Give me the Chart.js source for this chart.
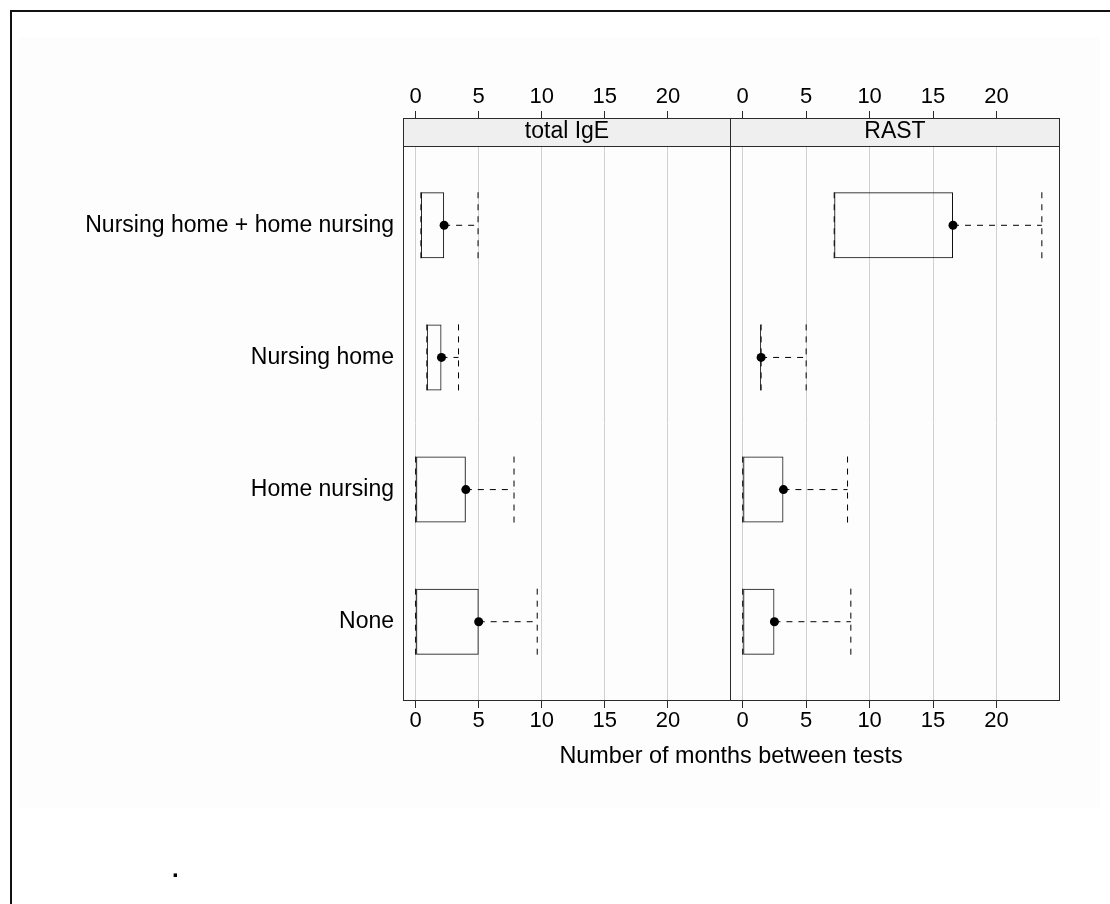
<!DOCTYPE html>
<html>
<head>
<meta charset="utf-8">
<script src="https://cdn.jsdelivr.net/npm/chart.js@4.4.1/dist/chart.umd.min.js"></script>
<style>
  html, body { margin: 0; padding: 0; background: #fff; }
  #page { position: relative; width: 1110px; height: 904px; overflow: hidden; background: #fff; }
  #haze { position: absolute; left: 18px; top: 37px; width: 1082px; height: 771px; background: #fdfdfd; }
  #frame { position: absolute; left: 10px; top: 10px; width: 1100px; height: 894px;
           border-left: 2px solid #111; border-top: 2px solid #111; box-sizing: border-box; }
  canvas { position: absolute; left: 0; top: 0; }
  #dot { position: absolute; left: 172px; top: 855px; font: bold 24px "Liberation Sans", Arial, sans-serif; color: #000; }
</style>
</head>
<body>
<div id="page">
  <div id="haze"></div>
  <div id="frame"></div>
  <canvas id="panelIgE" width="1110" height="904"></canvas>
  <canvas id="panelRAST" width="1110" height="904"></canvas>
  <div id="dot">.</div>
</div>
<script>
// Care groups, top to bottom
const CATEGORIES = ['Nursing home + home nursing', 'Nursing home', 'Home nursing', 'None'];
const PANELS = ['total IgE', 'RAST'];
const X_TICKS = [0, 5, 10, 15, 20];
const AXIS_TITLE = 'Number of months between tests';

// Months between tests: whisker ends, quartiles and medians per group
const IGE_LOW    = [0.42, 0.89, 0.0, 0.0];
const IGE_Q1     = [0.42, 0.89, 0.0, 0.0];
const IGE_MEDIAN = [2.26, 2.05, 3.98, 5.0];
const IGE_Q3     = [2.26, 2.05, 3.98, 5.0];
const IGE_HIGH   = [4.95, 3.40, 7.80, 9.64];

const RAST_LOW    = [7.21, 1.45, 0.0, 0.0];
const RAST_Q1     = [7.21, 1.45, 0.0, 0.0];
const RAST_MEDIAN = [16.57, 1.45, 3.21, 2.50];
const RAST_Q3     = [16.57, 1.45, 3.21, 2.50];
const RAST_HIGH   = [23.57, 5.00, 8.26, 8.52];

const FONT = '"Liberation Sans", Arial, Helvetica, sans-serif';
const X_MIN = -1, X_MAX = 25;
const BOX_WIDTH = 0.5;     // box thickness as a share of the group spacing
const STRIP_H = 28;
const TOP_AXIS_H = 146;
const BOTTOM_AXIS_H = 203;
const LEFT_AXIS_W = 403;
const AXIS_TITLE_Y = 757;
const LINE = '#111';
const DASH = [6, 6];

const groupPositions = () => CATEGORIES.map((_, i) => i + 1);

function buildDatasets(low, q1, median, q3, high) {
  const ys = groupPositions();
  const sets = [];
  sets.push({
    type: 'bar', indexAxis: 'y', xAxisID: 'x', yAxisID: 'y',
    data: ys.map((y, i) => ({ y, x: [q1[i], q3[i]] })),
    backgroundColor: 'rgba(0,0,0,0)', borderColor: LINE, borderWidth: 1,
    borderSkipped: false, categoryPercentage: 1, barPercentage: BOX_WIDTH,
    minBarLength: 1, order: 3
  });
  const half = BOX_WIDTH / 2;
  ys.forEach((y, i) => {
    const segs = [
      [{ x: low[i], y }, { x: q1[i], y }],
      [{ x: q3[i], y }, { x: high[i], y }],
      [{ x: low[i], y: y - half }, { x: low[i], y: y + half }],
      [{ x: high[i], y: y - half }, { x: high[i], y: y + half }]
    ];
    segs.forEach(seg => sets.push({
      type: 'line', indexAxis: 'x', xAxisID: 'x', yAxisID: 'y',
      data: seg, borderColor: '#000', borderWidth: 1, borderDash: DASH,
      pointRadius: 0, fill: false, tension: 0, order: 2
    }));
  });
  sets.push({
    type: 'scatter', indexAxis: 'x', xAxisID: 'x', yAxisID: 'y',
    data: ys.map((y, i) => ({ x: median[i], y })),
    pointRadius: 4.5, pointBackgroundColor: '#000', pointBorderWidth: 0,
    showLine: false, order: 0
  });
  return sets;
}

const panelDecor = {
  id: 'panelDecor',
  afterDraw(chart, args, opts) {
    const { ctx, chartArea: a } = chart;
    const L = Math.round(a.left) + 0.5, R = Math.round(a.right) - 0.5;
    const T = Math.round(a.top - STRIP_H) + 0.5, S = Math.round(a.top) + 0.5, B = Math.round(a.bottom) - 0.5;
    ctx.save();
    ctx.fillStyle = '#efefef';
    ctx.fillRect(L, T, R - L, S - T);
    ctx.strokeStyle = '#2a2a2a';
    ctx.lineWidth = 1;
    ctx.strokeRect(L, T, R - L, B - T);
    ctx.beginPath(); ctx.moveTo(L, S); ctx.lineTo(R, S); ctx.stroke();
    ctx.fillStyle = '#000';
    ctx.font = '23px ' + FONT;
    ctx.textAlign = 'center';
    ctx.textBaseline = 'middle';
    ctx.fillText(opts.title, (a.left + a.right) / 2, a.top - STRIP_H / 2);
    if (opts.axisTitle) {
      ctx.font = '23.4px ' + FONT;
      ctx.fillText(opts.axisTitle, a.right, AXIS_TITLE_Y);
    }
    ctx.restore();
  }
};

function xScale(position) {
  const top = position === 'top';
  return {
    type: 'linear', position, min: X_MIN, max: X_MAX, offset: false,
    afterBuildTicks: s => { s.ticks = X_TICKS.map(v => ({ value: v })); },
    afterFit: s => { s.height = top ? TOP_AXIS_H : BOTTOM_AXIS_H; },
    grid: { offset: false, color: '#d0d0d0', lineWidth: 1, tickColor: '#2a2a2a', tickWidth: 1,
            tickLength: top ? 35 : 7, drawOnChartArea: !top },
    border: { display: false },
    ticks: { font: { family: FONT, size: 22 }, color: '#000', padding: top ? 1 : 0,
             maxRotation: 0, autoSkip: false }
  };
}

function makeChart(id, panelIndex, series, padding, showLabels) {
  return new Chart(document.getElementById(id), {
    type: 'bar',
    data: { datasets: buildDatasets(...series) },
    options: {
      indexAxis: 'y',
      responsive: false, animation: false, devicePixelRatio: 1, events: [],
      layout: { padding },
      scales: {
        x: xScale('bottom'),
        xTop: xScale('top'),
        y: {
          type: 'linear', reverse: true, min: 0.4, max: CATEGORIES.length + 0.6,
          offset: false, display: showLabels,
          afterBuildTicks: s => { s.ticks = groupPositions().map(v => ({ value: v })); },
          afterFit: s => { s.width = showLabels ? LEFT_AXIS_W : 0; },
          grid: { display: false, drawTicks: false, offset: false },
          border: { display: false },
          ticks: { font: { family: FONT, size: 23 }, color: '#000', padding: 9, autoSkip: false,
                   callback: v => CATEGORIES[Math.round(v) - 1] }
        }
      },
      plugins: {
        legend: { display: false }, tooltip: { enabled: false },
        panelDecor: { title: PANELS[panelIndex], axisTitle: panelIndex === 0 ? AXIS_TITLE : null }
      }
    },
    plugins: [panelDecor]
  });
}

makeChart('panelIgE', 0, [IGE_LOW, IGE_Q1, IGE_MEDIAN, IGE_Q3, IGE_HIGH],
          { left: 0, right: 1110 - 731, top: 0, bottom: 0 }, true);
makeChart('panelRAST', 1, [RAST_LOW, RAST_Q1, RAST_MEDIAN, RAST_Q3, RAST_HIGH],
          { left: 730, right: 1110 - 1060, top: 0, bottom: 0 }, false);
</script>
</body>
</html>
